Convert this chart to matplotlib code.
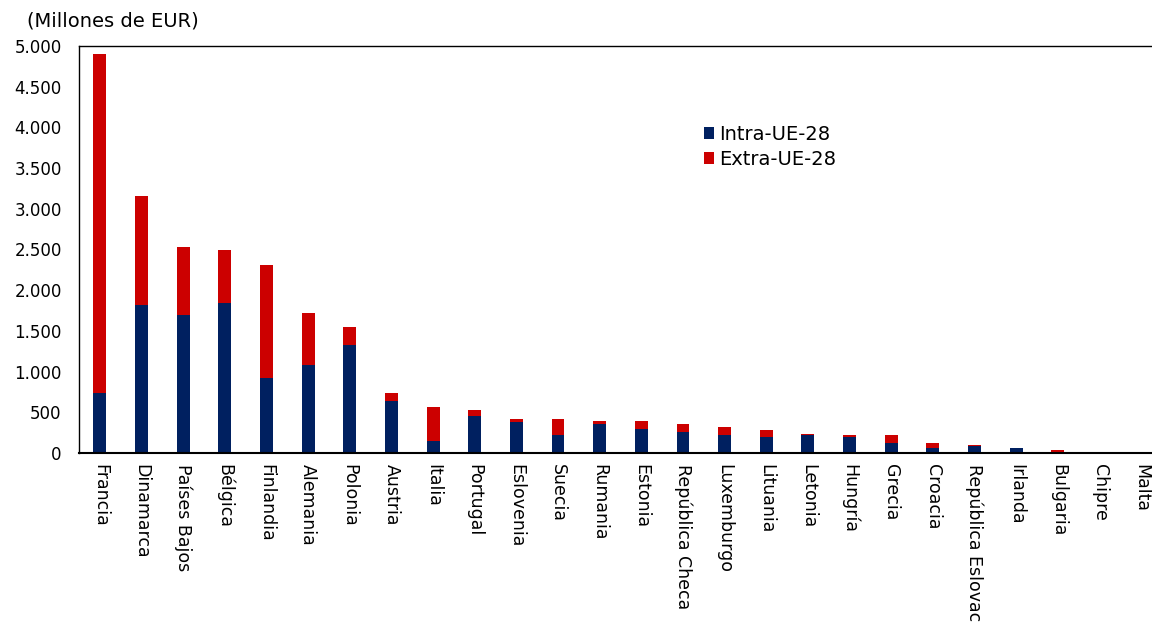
import numpy as np
import matplotlib
matplotlib.use("Agg")
import matplotlib.pyplot as plt
from matplotlib.ticker import FuncFormatter

# Datos (millones de EUR)
paises = ["Francia", "Dinamarca", "Países Bajos", "Bélgica", "Finlandia", "Alemania",
          "Polonia", "Austria", "Italia", "Portugal", "Eslovenia", "Suecia", "Rumania",
          "Estonia", "República Checa", "Luxemburgo", "Lituania", "Letonia", "Hungría",
          "Grecia", "Croacia", "República Eslovaca", "Irlanda", "Bulgaria", "Chipre", "Malta"]
intra_ue = [736, 1816, 1693, 1840, 920, 1080, 1325, 638, 147, 456, 378, 223, 358,
            297, 255, 218, 199, 218, 196, 118, 57, 81, 60, 16, 2, 0]
total = [4900, 3153, 2528, 2491, 2307, 1718, 1546, 736, 564, 534, 420, 415, 399,
         399, 358, 321, 280, 239, 225, 225, 123, 102, 63, 40, 5, 0]
extra_ue = [t - i for t, i in zip(total, intra_ue)]

azul = "#002060"
rojo = "#CC0000"

fig = plt.figure(figsize=(11.52, 6.22), dpi=100)
# el grafico original esta recortado por la derecha
ax = fig.add_axes([79 / 1152, 1 - 453 / 622, 1083 / 1152, 407 / 622])

x = np.arange(len(paises))
ax.bar(x, intra_ue, width=0.31, color=azul, label="Intra-UE-28")
ax.bar(x, extra_ue, width=0.31, bottom=intra_ue, color=rojo, label="Extra-UE-28")

ax.set_xlim(-0.5, len(paises) - 0.5)
ax.set_ylim(0, 5000)
ax.set_yticks(np.arange(0, 5001, 500))
ax.yaxis.set_major_formatter(FuncFormatter(lambda v, p: "{:,.0f}".format(v).replace(",", ".")))
ax.set_xticks(x)
ax.set_xticklabels(paises, rotation=270, ha="center", va="top")
ax.tick_params(axis="both", length=0, colors="black")
ax.tick_params(axis="y", labelsize=12, pad=12.5)
ax.tick_params(axis="x", labelsize=12.5, pad=8)
for s in ax.spines.values():
    s.set_linewidth(1.0)
ax.spines["bottom"].set_linewidth(1.5)

fig.text(27 / 1152, 1 - 21 / 622, "(Millones de EUR)", fontsize=14, va="center", ha="left")

ax.legend(loc="upper left", bbox_to_anchor=(0.5695, 0.825), frameon=False, fontsize=14,
          handlelength=0.55, handleheight=0.55, handletextpad=0.25, labelspacing=0.3,
          borderaxespad=0)

fig.savefig("out.png", dpi=100)
